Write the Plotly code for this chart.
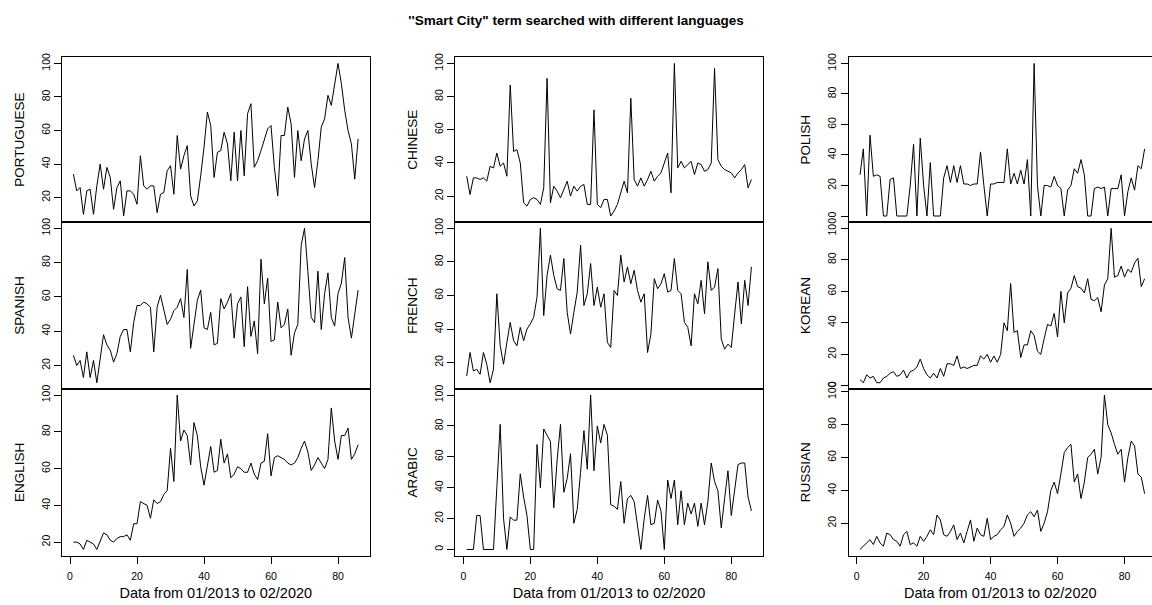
import plotly.graph_objects as go

W, H = 1152, 605
months = list(range(1, 87))

portuguese = [34,24,26,10,24,25,10,27,40,25, 38,32,13,26,30,9,24,24,22,16,
              45,27,25,27,27,11,22,23,36,39, 22,57,37,45,51,21,15,18,33,50,
              71,63,32,47,48,59,52,30,59,30, 60,33,70,76,38,42,48,55,61,63,
              38,21,57,57,74,64,32,60,42,55, 60,40,26,42,62,67,81,75,88,100,
              88,72,60,52,31,55]
spanish = [26,20,23,13,28,13,23,10,24,38, 32,29,22,27,37,41,41,28,45,55,
           55,57,56,54,28,54,61,53,44,47, 52,54,59,48,76,30,45,58,64,42,
           41,51,32,33,59,53,57,62,36,56, 60,31,66,37,46,27,82,56,71,34,
           35,57,42,44,53,26,39,44,90,100, 75,48,45,75,41,62,74,48,43,62,
           68,83,48,36,50,64]
english = [20,20,19,16,21,20,19,16,21,25, 24,21,20,22,23,23,24,21,30,30,
           42,41,40,33,43,41,42,46,48,71, 53,100,75,81,78,62,85,78,61,51,
           61,72,58,59,76,63,68,55,57,61, 60,58,58,63,57,54,63,64,79,56,
           66,67,66,65,63,62,63,66,71,75, 69,59,62,66,63,60,65,93,75,65,
           78,78,82,65,68,73]
chinese = [32,21,31,31,30,31,29,38,37,46, 38,40,32,87,47,48,40,16,14,18,
           19,18,15,25,91,16,26,23,19,24, 29,20,26,23,26,27,15,15,72,15,
           13,18,18,8,11,15,22,29,22,79, 30,26,31,26,30,35,29,32,34,40,
           46,22,100,37,41,37,39,41,33,40, 39,35,36,40,97,42,38,36,35,34,
           31,34,36,39,25,30]
french = [12,26,15,16,13,26,19,8,16,61, 30,19,32,44,33,30,41,33,40,43,
          47,59,100,48,72,84,72,64,63,82, 50,37,50,62,90,54,61,79,54,65,
          53,61,32,29,63,60,84,68,77,67, 75,63,56,61,26,37,70,64,67,73,
          62,63,82,63,61,44,41,30,61,55, 69,49,80,63,65,76,34,28,31,29,
          49,68,43,69,54,77]
arabic = [0,0,0,22,22,0,0,0,0,40, 81,20,0,21,19,19,49,34,22,0,
          0,68,40,78,74,70,27,58,81,37, 46,62,17,26,50,77,52,100,51,80,
          69,81,74,29,28,26,44,17,33,35, 31,16,0,20,35,16,17,32,25,0,
          45,33,45,16,38,16,30,23,30,15, 30,16,31,56,44,38,14,33,51,22,
          37,55,56,56,34,25]
polish = [27,44,0,53,26,27,26,0,0,24, 25,0,0,0,0,20,47,0,51,20,
          0,35,0,0,0,25,33,22,33,22, 33,21,21,20,21,21,42,20,0,21,
          21,22,22,22,44,21,28,21,30,21, 37,0,100,20,0,20,20,19,26,20,
          18,0,17,20,31,28,37,27,0,0, 18,19,18,19,0,18,18,18,27,0,
          16,25,17,33,31,44]
korean = [4,2,7,5,6,2,2,5,6,8, 9,6,7,10,5,9,10,12,17,11,
          7,5,8,5,11,6,14,14,13,19, 11,12,11,12,13,13,19,17,20,15,
          19,15,20,40,35,65,34,35,18,26, 26,35,32,22,20,30,39,38,46,31,
          60,40,59,62,70,63,62,59,68,55, 54,56,47,64,68,100,69,70,76,69,
          74,72,78,81,63,68]
russian = [4,6,8,10,7,12,8,6,14,13, 10,9,6,13,15,7,8,6,12,9,
           12,16,13,25,22,13,12,15,19,10, 14,8,15,22,9,17,13,12,23,10,
           12,13,16,18,25,20,12,15,17,20, 25,27,24,28,15,20,27,40,45,38,
           50,63,66,68,45,50,35,45,60,62, 65,50,60,98,80,75,68,62,65,45,
           60,70,67,50,48,38]

columns = [[("PORTUGUESE", portuguese), ("SPANISH", spanish), ("ENGLISH", english)],
           [("CHINESE", chinese), ("FRENCH", french), ("ARABIC", arabic)],
           [("POLISH", polish), ("KOREAN", korean), ("RUSSIAN", russian)]]

title_text = "''Smart City\" term searched with different languages"
xlabel = "Data from 01/2013 to 02/2020"

FONT = "Liberation Sans, Arial, Helvetica, sans-serif"
xdom_px = [(62, 369.5), (455.3, 762.8), (848.6, 1156)]
ydom_px = [(50, 217), (217, 386), (386, 555)]

fig = go.Figure()
layout = {}
xlo = months[0] - 0.04 * (months[-1] - months[0])
xhi = months[-1] + 0.04 * (months[-1] - months[0])

for c, col in enumerate(columns):
    x0p, x1p = xdom_px[c]
    ppu = (x1p - x0p) / (xhi - xlo)
    if x1p > W:
        rng_hi = xlo + (W - x0p) / ppu
        x1p = W
    else:
        rng_hi = xhi
    for r, (name, vals) in enumerate(col):
        k = c * 3 + r + 1
        xa = "xaxis" if k == 1 else f"xaxis{k}"
        ya = "yaxis" if k == 1 else f"yaxis{k}"
        fig.add_trace(go.Scatter(x=months, y=vals, mode="lines",
                                 line=dict(color="black", width=1),
                                 xaxis=f"x{k}" if k > 1 else "x",
                                 yaxis=f"y{k}" if k > 1 else "y",
                                 showlegend=False, hoverinfo="skip"))
        y0p, y1p = ydom_px[r]
        vmin, vmax = min(vals), max(vals)
        pad = 0.04 * (vmax - vmin)
        bottom = (r == 2)
        layout[xa] = dict(domain=[x0p / W, x1p / W], range=[xlo, rng_hi],
                          anchor=f"y{k}" if k > 1 else "y",
                          showline=True, mirror=True, linecolor="black", linewidth=1,
                          showgrid=False, zeroline=False,
                          ticks="outside" if bottom else "", ticklen=7, tickcolor="black",
                          tick0=0, dtick=20, showticklabels=bottom,
                          ticklabelstandoff=4,
                          tickfont=dict(family=FONT, size=10.5, color="black"),
                          title=dict(text=xlabel if bottom else "",
                                     font=dict(family=FONT, size=14.5, color="black"),
                                     standoff=6))
        layout[ya] = dict(domain=[1 - y1p / H, 1 - y0p / H], range=[vmin - pad, vmax + pad],
                          anchor=f"x{k}" if k > 1 else "x",
                          showline=True, mirror=(c < 2), linecolor="black", linewidth=1,
                          showgrid=False, zeroline=False,
                          ticks="outside", ticklen=7, tickcolor="black",
                          tick0=0, dtick=20, tickangle=-90,
                          tickfont=dict(family=FONT, size=10.5, color="black"),
                          title=dict(text=name, font=dict(family=FONT, size=13.5, color="black"),
                                     standoff=12))

fig.update_layout(**layout)
fig.update_layout(width=W, height=H, margin=dict(l=0, r=0, t=0, b=0),
                  paper_bgcolor="white", plot_bgcolor="white",
                  title=dict(text="<b>" + title_text + "</b>", x=0.5, xanchor="center",
                             y=1 - 20 / H, yanchor="middle",
                             font=dict(family=FONT, size=13.5, color="black")))
fig.write_html("out.html")
